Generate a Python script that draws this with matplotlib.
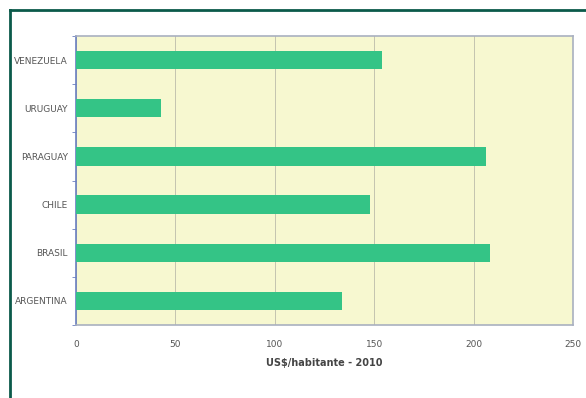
import matplotlib.pyplot as plt
from matplotlib.lines import Line2D

countries = ["ARGENTINA", "BRASIL", "CHILE", "PARAGUAY", "URUGUAY", "VENEZUELA"]
values = [134, 208, 148, 206, 43, 154]
x_ticks = [0, 50, 100, 150, 200, 250]

fig = plt.figure(figsize=(5.86, 3.98), dpi=100)
ax = fig.add_axes([76 / 586, 1 - 325 / 398, 497 / 586, 289 / 398])

ax.set_facecolor("#f7f8d0")
pos = range(len(countries))
ax.barh(pos, values, height=0.38, color="#34c486", zorder=3)

ax.set_xlim(0, 250)
ax.set_ylim(-0.5, len(countries) - 0.5)
ax.set_xticks(x_ticks)
ax.set_xticklabels([str(t) for t in x_ticks], fontsize=6.5, color="#555555")
ax.set_yticks(list(pos))
ax.set_yticklabels(countries, fontsize=6.5, color="#555555")
ax.tick_params(axis="y", length=0, pad=6)
ax.tick_params(axis="x", length=0, pad=11)

# minor ticks between categories on the value axis
ax.set_yticks([i - 0.5 for i in range(len(countries) + 1)], minor=True)
ax.tick_params(axis="y", which="minor", length=3, color="#6a7fc0", direction="out")

ax.grid(axis="x", color="#c4c4b0", linewidth=0.7, zorder=1)
for side in ["top", "right", "bottom"]:
    ax.spines[side].set_color("#a9b0c0")
    ax.spines[side].set_linewidth(1.2)
ax.spines["left"].set_color("#6a7fc0")
ax.spines["left"].set_linewidth(1.2)

ax.set_xlabel("US$/habitante - 2010", fontsize=7, fontweight="bold", color="#444444", labelpad=6)

# dark green frame around the panel
frame_color = "#0b5a4a"
fig.add_artist(Line2D([10 / 586, 1], [1 - 10 / 398, 1 - 10 / 398], color=frame_color, linewidth=2,
                      transform=fig.transFigure))
fig.add_artist(Line2D([10 / 586, 10 / 586], [0, 1 - 10 / 398], color=frame_color, linewidth=2,
                      transform=fig.transFigure))

fig.savefig("out.png", dpi=100)
